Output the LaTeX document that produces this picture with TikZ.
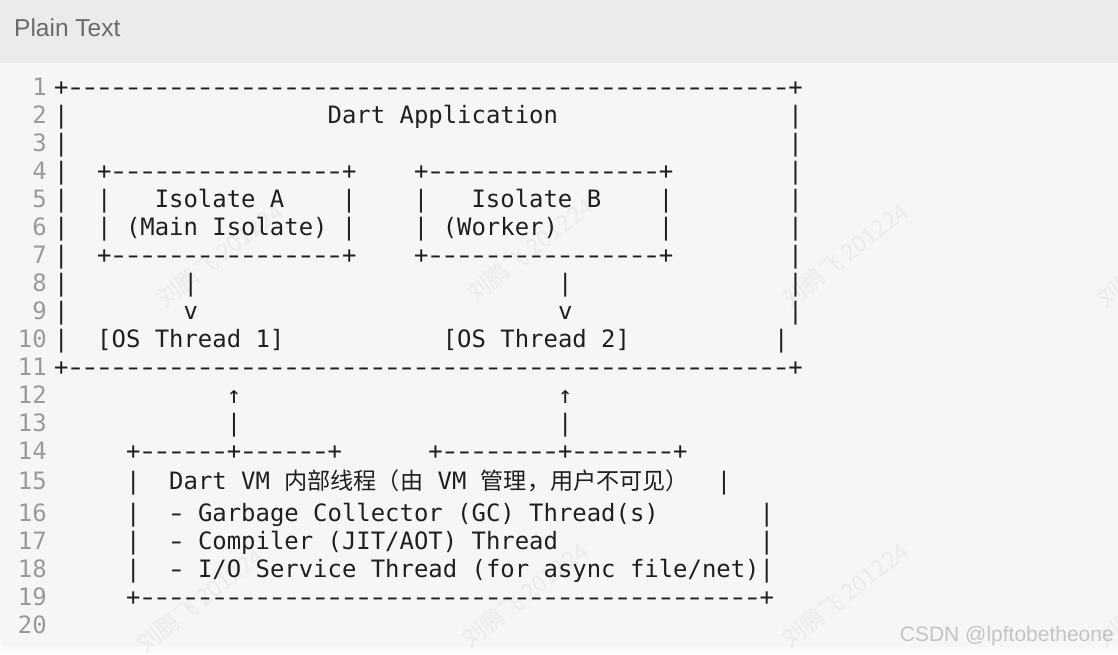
\documentclass[tikz,border=0pt]{standalone}
\usepackage{fontspec}
\setmonofont{DejaVu Sans Mono}
\newfontfamily\cjk{Noto Sans CJK SC}[Scale=0.967]
\newfontfamily\uisans{Liberation Sans}
\ExplSyntaxOn
\cs_new:Npn \Rep #1#2 { \prg_replicate:nn {#1} {#2} }
\ExplSyntaxOff
\newcommand\hy{\makebox[0.602em][c]{\scalebox{1.4}[1]{-}}}
\definecolor{codeink}{HTML}{1F1F1F}
\definecolor{lnumc}{HTML}{9A9A9A}
\definecolor{hdr}{HTML}{EBEBED}
\definecolor{bodyc}{HTML}{F6F6F6}
\definecolor{pagec}{HTML}{FBFBFB}
\definecolor{wmc}{HTML}{EBEBEB}
\definecolor{csdnc}{HTML}{C4C4C4}
\definecolor{hdrtxt}{HTML}{6B6B6B}
\tikzset{
  code/.style={font=\ttfamily\fontsize{23.92pt}{28pt}\selectfont, text=codeink, anchor=base west, inner sep=0pt},
  bar/.style={font=\ttfamily\fontsize{23.92pt}{28pt}\selectfont, text=codeink, anchor=base, inner sep=0pt},
  lnum/.style={font=\ttfamily\fontsize{23.92pt}{28pt}\selectfont, text=lnumc, anchor=base east, inner sep=0pt},
  wm/.style={font=\cjk\fontsize{24pt}{28pt}\selectfont, text=wmc, inner sep=0pt, rotate=38},
}
\begin{document}
\begin{tikzpicture}[x=1pt,y=-1pt]
\useasboundingbox (0,0) rectangle (1118,654);
\fill[pagec] (0,0) rectangle (1118,654);
\fill[bodyc, rounded corners=9pt] (0,30) rectangle (1140,647);
\fill[hdr] (0,0) rectangle (1118,63);
\node[font=\uisans\fontsize{24.5pt}{28pt}\selectfont, text=hdrtxt, anchor=base west, inner sep=0pt] (title) at (14,36) {Plain Text};
% watermarks
\foreach \x/\y [count=\i] in {220/255, 530/250, 845/255, 1160/255, 200/600, 525/595, 845/595, 1160/595}
  \node[wm] (wm\i) at (\x,\y) {刘鹏飞 201224};
% line numbers
\foreach \n/\y in {1/95,2/123,3/151,4/179,5/207,6/235,7/263,8/291,9/319,10/347,11/375,12/403,13/431,14/459,15/489,16/521,17/549,18/577,19/605,20/633}
  \node[lnum] (n\n) at (47,\y) {\n};
% code lines
\node[code] (l1) at (53.8,95) {+\Rep{50}{\hy}+};
\node[code] (l2) at (53.8,123) {|\Rep{18}{~}Dart~Application\Rep{16}{~}|};
\node[code] (l3) at (53.8,151) {|\Rep{50}{~}|};
\node[code] (l4) at (53.8,179) {|~~+\Rep{16}{\hy}+\Rep{4}{~}+\Rep{16}{\hy}+\Rep{8}{~}|};
\node[code] (l5) at (53.8,207) {|~~|~~~Isolate~A\Rep{4}{~}|\Rep{4}{~}|~~~Isolate~B\Rep{4}{~}|\Rep{8}{~}|};
\node[code] (l6) at (53.8,235) {|~~|~(Main~Isolate)~|\Rep{4}{~}|~(Worker)\Rep{7}{~}|\Rep{8}{~}|};
\node[code] (l7) at (53.8,263) {|~~+\Rep{16}{\hy}+\Rep{4}{~}+\Rep{16}{\hy}+\Rep{8}{~}|};
\node[code] (l8) at (53.8,291) {|\Rep{8}{~}|\Rep{25}{~}|\Rep{15}{~}|};
\node[code] (l9) at (53.8,319) {|\Rep{8}{~}v\Rep{25}{~}v\Rep{15}{~}|};
\node[code] (l10) at (53.8,347) {|~~[OS~Thread~1]\Rep{11}{~}[OS~Thread~2]\Rep{10}{~}|};
\node[code] (l11) at (53.8,375) {+\Rep{50}{\hy}+};
\node[code] (l12) at (53.8,403) {\Rep{12}{~}↑\Rep{22}{~}↑};
\node[code] (l13) at (53.8,431) {\Rep{12}{~}|\Rep{22}{~}|};
\node[code] (l14) at (53.8,459) {\Rep{5}{~}+\Rep{6}{\hy}+\Rep{6}{\hy}+\Rep{6}{~}+\Rep{8}{\hy}+\Rep{7}{\hy}+};
\node[code] (l15) at (53.8,489) {\Rep{5}{~}|~~Dart~VM~{\cjk 内部线程（由}~VM~{\cjk 管理，用户不可见）}};
\node[bar] (l15r) at (724,489) {|};
\node[code] (l16) at (53.8,521) {\Rep{5}{~}|~~\hy~Garbage~Collector~(GC)~Thread(s)\Rep{7}{~}|};
\node[code] (l17) at (53.8,549) {\Rep{5}{~}|~~\hy~Compiler~(JIT/AOT)~Thread\Rep{14}{~}|};
\node[code] (l18) at (53.8,577) {\Rep{5}{~}|~~\hy~I/O~Service~Thread~(for~async~file/net)|};
\node[code] (l19) at (53.8,605) {\Rep{5}{~}+\Rep{43}{\hy}+};
% csdn mark
\node[font=\uisans\fontsize{21pt}{24pt}\selectfont, text=csdnc, anchor=base east, inner sep=0pt] (csdn) at (1114,641) {CSDN @lpftobetheone};
\end{tikzpicture}
\end{document}
